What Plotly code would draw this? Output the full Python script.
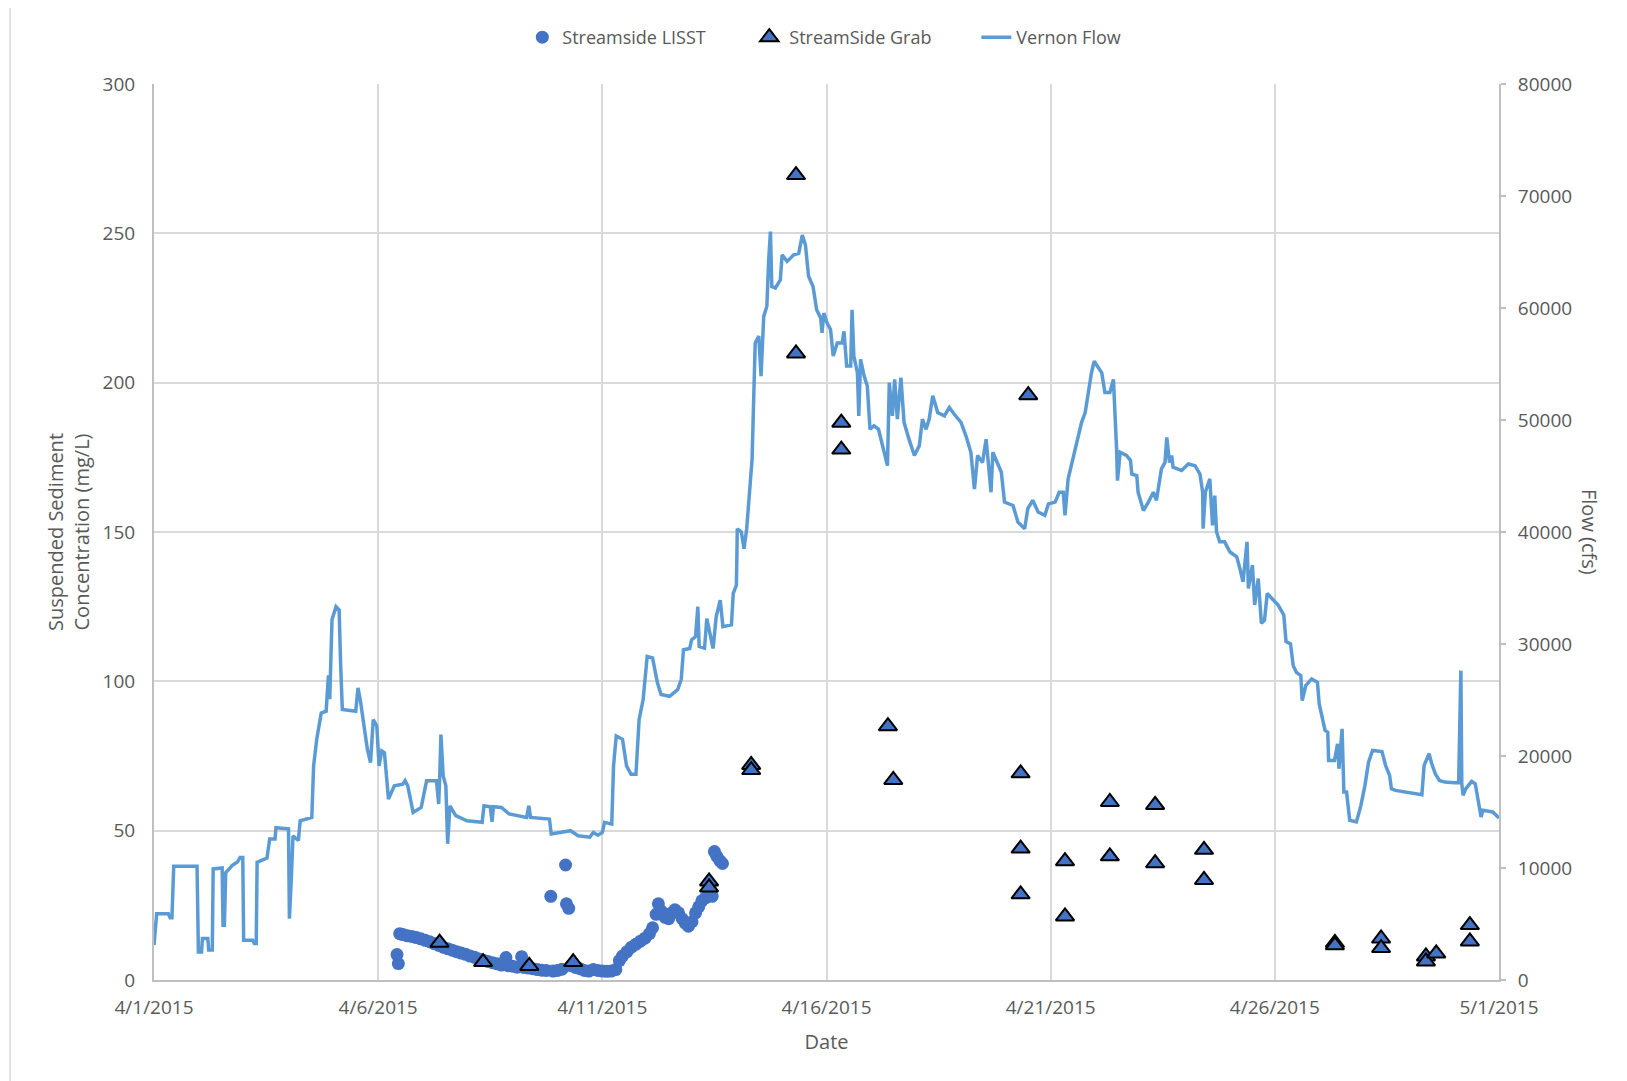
import pandas as pd
import plotly.graph_objects as go

# ---------------- data ----------------
START = "2015-04-01"

# Vernon Flow (cfs); time given as days elapsed since 4/1/2015 00:00
flow_day = [
    0.00, 0.06, 0.32, 0.36, 0.40, 0.44, 0.96, 0.99, 1.06, 1.08, 1.20, 1.22, 1.30, 1.32, 1.52,
    1.54, 1.57, 1.60, 1.68, 1.74, 1.86, 1.92, 1.98, 2.00, 2.20, 2.24, 2.28, 2.30, 2.52, 2.58,
    2.70, 2.72, 3.00, 3.02, 3.06, 3.10, 3.22, 3.26, 3.52, 3.56, 3.63, 3.73, 3.84, 3.89, 3.92,
    3.97, 4.06, 4.13, 4.16, 4.20, 4.50, 4.55, 4.60, 4.67, 4.76, 4.83, 4.89, 4.97, 5.02, 5.08,
    5.14, 5.23, 5.36, 5.55, 5.60, 5.66, 5.78, 5.96, 6.08, 6.30, 6.35, 6.37, 6.40, 6.45, 6.51,
    6.55, 6.60, 6.73, 6.98, 7.32, 7.36, 7.50, 7.54, 7.57, 7.75, 7.92, 8.31, 8.36, 8.40, 8.82,
    8.86, 9.29, 9.46, 9.72, 9.80, 9.90, 10.00, 10.05, 10.21, 10.25, 10.31, 10.45, 10.54, 10.64, 10.75,
    10.82, 10.91, 11.00, 11.12, 11.23, 11.31, 11.50, 11.68, 11.76, 11.81, 11.95, 11.99, 12.08, 12.13, 12.16,
    12.28, 12.33, 12.40, 12.47, 12.54, 12.63, 12.69, 12.88, 12.92, 12.99, 13.00, 13.01, 13.10, 13.16, 13.22,
    13.28, 13.34, 13.37, 13.41, 13.49, 13.54, 13.60, 13.67, 13.71, 13.75, 13.78, 13.86, 13.97, 14.01, 14.12,
    14.27, 14.38, 14.46, 14.53, 14.60, 14.70, 14.78, 14.87, 14.90, 14.94, 15.01, 15.09, 15.15, 15.24, 15.35,
    15.39, 15.45, 15.54, 15.57, 15.61, 15.69, 15.72, 15.76, 15.84, 15.91, 15.97, 16.06, 16.16, 16.28, 16.36,
    16.40, 16.47, 16.52, 16.58, 16.66, 16.73, 16.84, 16.96, 17.07, 17.14, 17.22, 17.29, 17.37, 17.48, 17.63,
    17.74, 17.85, 18.00, 18.11, 18.22, 18.30, 18.37, 18.48, 18.56, 18.67, 18.71, 18.90, 18.97, 19.16, 19.27,
    19.42, 19.49, 19.60, 19.72, 19.87, 19.95, 20.10, 20.19, 20.28, 20.32, 20.39, 20.51, 20.62, 20.69, 20.77,
    20.84, 20.91, 20.97, 21.06, 21.14, 21.21, 21.32, 21.40, 21.44, 21.47, 21.49, 21.55, 21.69, 21.78, 21.81,
    21.92, 21.95, 22.07, 22.18, 22.29, 22.36, 22.40, 22.47, 22.55, 22.59, 22.65, 22.70, 22.73, 22.92, 23.07,
    23.22, 23.33, 23.39, 23.40, 23.45, 23.55, 23.61, 23.66, 23.70, 23.77, 23.88, 24.00, 24.15, 24.22, 24.29,
    24.38, 24.41, 24.50, 24.55, 24.63, 24.70, 24.77, 24.83, 24.93, 25.07, 25.20, 25.25, 25.35, 25.41, 25.48,
    25.58, 25.61, 25.69, 25.82, 25.95, 25.99, 26.06, 26.12, 26.18, 26.20, 26.33, 26.40, 26.43, 26.50, 26.54,
    26.60, 26.67, 26.82, 26.92, 27.01, 27.09, 27.18, 27.39, 27.47, 27.56, 27.60, 27.69, 27.94, 28.11, 28.28,
    28.33, 28.44, 28.50, 28.58, 28.67, 28.79, 29.01, 29.10, 29.12, 29.15, 29.17, 29.20, 29.26, 29.39, 29.47,
    29.52, 29.56, 29.60, 29.64, 29.86, 30.00,
]
flow_cfs = [
    3120, 5920, 5920, 5550, 5550, 10160, 10160, 2510, 2510, 3700, 3700, 2670, 2670, 9920, 10000,
    4880, 4880, 9600, 9920, 10210, 10530, 10930, 10930, 3550, 3550, 3250, 3250, 10510, 10880, 12590,
    12590, 13600, 13490, 5470, 8750, 12880, 12450, 14210, 14510, 19120, 21490, 23840, 24000, 27200, 25070,
    32160, 33330, 33040, 28530, 24160, 24000, 26080, 25040, 23250, 20590, 19410, 23250, 22670, 19120, 20450,
    20290, 16160, 17330, 17490, 17790, 17330, 14960, 15410, 17790, 17790, 15710, 17790, 21920, 18210, 17330,
    12160, 15550, 14670, 14210, 14080, 15550, 15470, 14130, 15470, 15410, 14830, 14510, 15550, 14510, 14370,
    13040, 13330, 12880, 12750, 13170, 12930, 13170, 14080, 13920, 19120, 21790, 21490, 19120, 18370, 18370,
    23250, 25040, 28880, 28750, 26510, 25490, 25330, 25920, 26830, 29490, 29600, 30370, 30670, 33330, 29790,
    29630, 32270, 30930, 29600, 32450, 33920, 31550, 31710, 34510, 35250, 37490, 40290, 40000, 38510, 40290,
    43250, 46510, 50960, 56880, 57490, 53920, 59250, 60160, 64290, 66830, 61920, 61790, 62510, 64750, 64160,
    64750, 64880, 66510, 65630, 62830, 61920, 59840, 59120, 57790, 59550, 58670, 58080, 55710, 56880, 56880,
    57920, 54830, 54830, 59840, 55710, 54210, 50370, 55410, 53920, 53040, 49170, 49490, 49170, 47120, 45920,
    53330, 50370, 53630, 50080, 53790, 49790, 48290, 46830, 47710, 50080, 49170, 50080, 52160, 50670, 50370,
    51120, 50510, 49790, 48590, 47120, 43840, 46830, 46210, 48290, 43550, 47120, 45330, 42670, 42370, 40880,
    40290, 42080, 42830, 41790, 41490, 42510, 42670, 43550, 43550, 41490, 44750, 46830, 48880, 49790, 50670,
    52450, 54210, 55250, 54670, 54210, 52450, 52450, 53630, 50370, 47410, 44590, 47120, 46830, 46400, 45170,
    45040, 43550, 41920, 42670, 43550, 42830, 44000, 45630, 46210, 48450, 46210, 46830, 45790, 45490, 46080,
    45920, 45170, 43550, 40290, 43550, 44750, 40590, 43250, 40000, 39120, 39120, 38210, 37790, 36750, 35550,
    39120, 34960, 37040, 33490, 35840, 31840, 32130, 34510, 34080, 33490, 32590, 30210, 30000, 28070, 27470,
    27180, 24950, 26290, 26880, 26580, 24650, 23320, 22280, 22130, 19600, 19600, 21090, 18860, 22420, 16780,
    16780, 14260, 14110, 15590, 17380, 19450, 20490, 20400, 19160, 18270, 17080, 16930, 16780, 16630, 16540,
    19160, 20200, 19310, 18410, 17820, 17670, 17610, 17610, 21830, 27620, 17500, 16480, 17080, 17730, 17520,
    16480, 15300, 14550, 15150, 15000, 14460,
]

# Streamside LISST (mg/L); days since 4/1/2015
lisst_day = [
    5.42, 5.45, 5.48, 5.55, 5.65, 5.75, 5.85, 5.95, 6.05, 6.15, 6.25, 6.35, 6.45, 6.55, 6.65,
    6.75, 6.85, 6.95, 7.05, 7.15, 7.25, 7.35, 7.45, 7.55, 7.65, 7.75, 7.85, 7.90, 8.00, 8.10,
    8.20, 8.25, 8.35, 8.45, 8.55, 8.65, 8.75, 8.85, 8.90, 9.00, 9.10, 9.18, 9.20, 9.25, 9.30,
    9.40, 9.50, 9.60, 9.70, 9.80, 9.90, 10.00, 10.10, 10.20, 10.30, 10.38, 10.45, 10.55, 10.65, 10.75,
    10.85, 10.95, 11.05, 11.12, 11.20, 11.25, 11.32, 11.40, 11.48, 11.55, 11.62, 11.70, 11.78, 11.85, 11.92,
    12.00, 12.08, 12.15, 12.22, 12.30, 12.38, 12.45, 12.50, 12.55, 12.62, 12.68,
]
lisst_mgl = [
    8.5, 5.5, 15.5, 15.2, 14.8, 14.6, 14.2, 13.8, 13.3, 12.8, 12.2, 11.6, 11.0, 10.5, 10.0,
    9.5, 9.0, 8.6, 8.0, 7.6, 7.0, 6.6, 6.2, 5.8, 5.4, 5.0, 7.5, 4.8, 4.6, 4.3,
    7.8, 4.2, 4.0, 3.8, 3.5, 3.3, 3.2, 28.0, 3.0, 3.2, 3.6, 38.5, 25.5, 24.0, 4.8,
    4.2, 3.8, 3.2, 3.0, 3.5, 3.2, 3.0, 2.9, 3.0, 3.5, 6.5, 8.0, 9.5, 11.0, 12.0,
    13.0, 14.0, 15.5, 17.5, 22.0, 25.5, 23.0, 21.0, 20.5, 22.5, 23.5, 22.5, 20.5, 19.0, 18.0,
    19.5, 22.5, 24.5, 26.5, 27.5, 30.0, 28.0, 43.0, 41.5, 40.0, 39.0,
]

# StreamSide Grab samples (mg/L); days since 4/1/2015
grab_day = [
    6.37, 7.34, 8.37, 9.35, 12.38, 12.38, 13.32, 13.32, 14.32, 14.32, 15.33, 15.33,
    16.37, 16.49, 19.33, 19.33, 19.33, 19.50, 20.32, 20.32, 21.32, 21.32, 22.33, 22.33,
    23.42, 23.42, 26.34, 26.34, 27.37, 27.37, 28.37, 28.37, 28.60, 29.35, 29.35,
]
grab_mgl = [
    12.5, 6.0, 4.7, 6.0, 33.0, 31.0, 72.0, 70.3, 269.5, 209.8, 186.6, 177.6,
    85.0, 67.0, 69.2, 44.0, 28.7, 195.8, 39.8, 21.3, 59.6, 41.4, 58.6, 39.1,
    43.6, 33.5, 12.4, 11.6, 13.9, 10.7, 7.9, 6.2, 8.9, 18.4, 12.9,
]


def to_dates(days):
    return pd.Timestamp(START) + pd.to_timedelta(pd.Series(days), unit="D")


# ---------------- figure ----------------
FONT = "Open Sans, Noto Sans, DejaVu Sans, sans-serif"
TXT = "#595959"
GRID = "#d9d9d9"
AXIS = "#bfbfbf"
TICK_SIZE = 19
TITLE_SIZE = 20

fig = go.Figure()

fig.add_trace(go.Scatter(
    x=to_dates(lisst_day), y=lisst_mgl, name="Streamside LISST", mode="markers",
    marker=dict(symbol="circle", size=13, color="#4472C4", line=dict(width=0)),
    yaxis="y",
))
fig.add_trace(go.Scatter(
    x=to_dates(grab_day), y=grab_mgl, name="StreamSide Grab", mode="markers",
    marker=dict(symbol="triangle-up", size=16, color="#4472C4",
                line=dict(color="#000000", width=2)),
    yaxis="y",
))
fig.add_trace(go.Scatter(
    x=to_dates(flow_day), y=flow_cfs, name="Vernon Flow", mode="lines",
    line=dict(color="#5B9BD5", width=3.5),
    yaxis="y2",
))

# page shows the figure offset by the browser's default 8px body margin
OFF = 8
W, H = 1627, 1081
# target plot area in page pixels: x 153.6..1499.3, y 84..980.5
ML = 154 - OFF
MT = 84 - OFF
PW = 1345
PH = 896
MR = W - ML - PW
MB = H - MT - PH


def px_to_paper_x(px_page):
    return (px_page - OFF - ML) / PW


def px_to_paper_y(py_page):
    return (MT + PH - (py_page - OFF)) / PH


fig.update_layout(
    width=W, height=H,
    margin=dict(l=ML, r=MR, t=MT, b=MB),
    paper_bgcolor="white", plot_bgcolor="white",
    font=dict(family=FONT, size=18, color=TXT),
    showlegend=True,
    legend=dict(
        orientation="h", xref="paper", x=0.527, xanchor="center",
        yref="container", y=1 - (37.5 - OFF) / H, yanchor="middle",
        font=dict(size=18, color=TXT), bgcolor="rgba(0,0,0,0)",
        entrywidth=182, traceorder="normal",
    ),
    xaxis=dict(
        type="date",
        range=["2015-04-01", "2015-05-01"],
        tick0="2015-04-01", dtick=5 * 86400000,
        tickformat="%-m/%-d/%Y",
        showgrid=True, gridcolor=GRID, gridwidth=1.5,
        showline=True, linecolor=AXIS, linewidth=2,
        ticks="outside", ticklen=9, tickcolor="rgba(0,0,0,0)",
        zeroline=False,
        tickfont=dict(size=TICK_SIZE, color=TXT),
        title=dict(text="Date", font=dict(size=TITLE_SIZE, color=TXT), standoff=16),
    ),
    yaxis=dict(
        range=[0, 300], dtick=50, tick0=0,
        showgrid=True, gridcolor=GRID, gridwidth=1.5,
        showline=True, linecolor=AXIS, linewidth=2,
        ticks="outside", ticklen=13, tickcolor="rgba(0,0,0,0)",
        zeroline=False,
        tickfont=dict(size=TICK_SIZE, color=TXT),
    ),
    yaxis2=dict(
        overlaying="y", side="right",
        range=[0, 80000], dtick=10000, tick0=0,
        showgrid=False, zeroline=False,
        showline=True, linecolor=AXIS, linewidth=2,
        ticks="outside", ticklen=5, tickcolor=AXIS, tickwidth=1.5,
        ticklabelstandoff=8,
        tickformat="d",
        tickfont=dict(size=TICK_SIZE, color=TXT),
    ),
    annotations=[
        dict(text="Suspended Sediment<br>Concentration (mg/L)", textangle=-90,
             xref="paper", yref="paper", x=px_to_paper_x(68), y=0.5,
             xanchor="center", yanchor="middle", showarrow=False,
             font=dict(size=TITLE_SIZE, color=TXT)),
        dict(text="Flow (cfs)", textangle=90,
             xref="paper", yref="paper", x=px_to_paper_x(1590), y=0.5,
             xanchor="center", yanchor="middle", showarrow=False,
             font=dict(size=TITLE_SIZE, color=TXT)),
    ],
    shapes=[
        dict(type="line", xref="paper", yref="paper",
             x0=px_to_paper_x(10), x1=px_to_paper_x(10),
             y0=px_to_paper_y(8), y1=px_to_paper_y(H + 20),
             line=dict(color=GRID, width=1.5)),
    ],
)

fig.write_html("out.html")
